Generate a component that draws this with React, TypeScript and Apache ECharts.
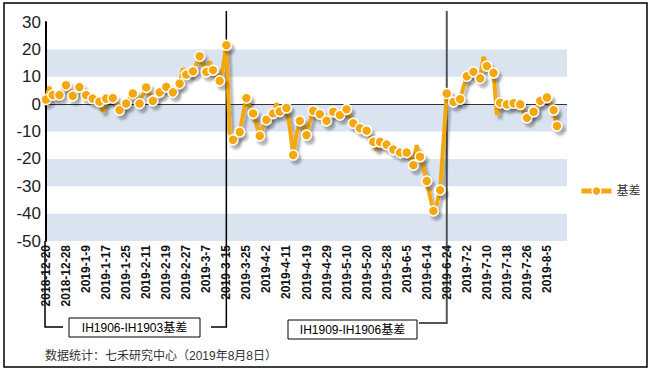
import React, { useEffect, useRef } from "react";
import * as echarts from "echarts";

const categories: string[] = [
  "2018-12-20", "2018-12-21", "2018-12-24", "2018-12-25", "2018-12-26", "2018-12-27", "2018-12-28",
  "2019-1-2", "2019-1-3", "2019-1-4", "2019-1-7", "2019-1-8", "2019-1-9", "2019-1-10", "2019-1-11",
  "2019-1-14", "2019-1-15", "2019-1-16", "2019-1-17", "2019-1-18", "2019-1-21", "2019-1-22", "2019-1-23",
  "2019-1-24", "2019-1-25", "2019-1-28", "2019-1-29", "2019-1-30", "2019-1-31", "2019-2-1", "2019-2-11",
  "2019-2-12", "2019-2-13", "2019-2-14", "2019-2-15", "2019-2-18", "2019-2-19", "2019-2-20", "2019-2-21",
  "2019-2-22", "2019-2-25", "2019-2-26", "2019-2-27", "2019-2-28", "2019-3-1", "2019-3-4", "2019-3-5",
  "2019-3-6", "2019-3-7", "2019-3-8", "2019-3-11", "2019-3-12", "2019-3-13", "2019-3-14", "2019-3-15",
  "2019-3-18", "2019-3-19", "2019-3-20", "2019-3-21", "2019-3-22", "2019-3-25", "2019-3-26", "2019-3-27",
  "2019-3-28", "2019-3-29", "2019-4-1", "2019-4-2", "2019-4-3", "2019-4-4", "2019-4-8", "2019-4-9",
  "2019-4-10", "2019-4-11", "2019-4-12", "2019-4-15", "2019-4-16", "2019-4-17", "2019-4-18", "2019-4-19",
  "2019-4-22", "2019-4-23", "2019-4-24", "2019-4-25", "2019-4-26", "2019-4-29", "2019-4-30", "2019-5-6",
  "2019-5-7", "2019-5-8", "2019-5-9", "2019-5-10", "2019-5-13", "2019-5-14", "2019-5-15", "2019-5-16",
  "2019-5-17", "2019-5-20", "2019-5-21", "2019-5-22", "2019-5-23", "2019-5-24", "2019-5-27", "2019-5-28",
  "2019-5-29", "2019-5-30", "2019-5-31", "2019-6-3", "2019-6-4", "2019-6-5", "2019-6-6", "2019-6-10",
  "2019-6-11", "2019-6-12", "2019-6-13", "2019-6-14", "2019-6-17", "2019-6-18", "2019-6-19", "2019-6-20",
  "2019-6-21", "2019-6-24", "2019-6-25", "2019-6-26", "2019-6-27", "2019-6-28", "2019-7-1", "2019-7-2",
  "2019-7-3", "2019-7-4", "2019-7-5", "2019-7-8", "2019-7-9", "2019-7-10", "2019-7-11", "2019-7-12",
  "2019-7-15", "2019-7-16", "2019-7-17", "2019-7-18", "2019-7-19", "2019-7-22", "2019-7-23", "2019-7-24",
  "2019-7-25", "2019-7-26", "2019-7-29", "2019-7-30", "2019-7-31", "2019-8-1", "2019-8-2", "2019-8-5",
  "2019-8-6", "2019-8-7", "2019-8-8", "2019-8-9", "2019-8-12", "2019-8-13",
];

const basisValues: (number | null)[] = [
  1.7, 6.3, 3.3, 4.5, 3.3, 5.2, 6.9, 5.0, 3.0, 4.6,
  6.2, 4.8, 3.3, 2.6, 2.0, 1.4, 0.9, -2.8, 2.0, 1.6,
  2.2, 0.4, -2.2, -0.8, 0.2, 2.1, 3.9, 1.8, 0.2, 3.4,
  6.1, 3.5, 1.2, 2.9, 4.3, 5.4, 6.3, 5.1, 4.3, 5.8,
  7.5, 13.0, 10.8, 11.2, 12.0, 14.6, 17.5, 14.2, 11.8, 15.6,
  12.4, 10.2, 8.5, 13.5, 21.5, -10.5, -13.0, -12.2, -10.2, -3.8,
  2.2, -0.9, -3.4, -7.3, -11.6, -8.1, -5.7, -4.2, -3.4, 0.3,
  -2.7, -2.0, -1.4, -8.5, -18.6, -11.0, -6.1, -8.0, -11.3, -6.4,
  -2.4, -2.6, -3.7, -4.8, -6.1, -4.2, -2.8, -3.1, -4.0, -2.8,
  -1.9, -4.9, -7.0, -7.9, -8.8, -9.4, -9.7, -11.6, -13.8, -16.8,
  -13.8, -14.3, -14.8, -15.6, -16.6, -17.1, -17.7, -17.9, -17.7, -19.3,
  -22.3, -15.0, -19.2, -23.4, -28.1, -33.8, -39.0, -36.5, -31.4, -14.0,
  3.9, 1.9, 0.8, 1.1, 1.8, 6.2, 10.2, 11.1, 11.8, 10.8,
  9.4, 17.3, 13.9, 12.3, 11.4, -4.0, 0.5, 0.1, -0.1, 0.1,
  0.3, 0.1, -0.1, -2.8, -5.0, -4.1, -2.8, -0.9, 1.2, 2.0,
  2.4, 0.2, -2.2, -8.0, null, null, null,
];

const seriesName = "基差";
const yMin = -50;
const yMax = 30;
const yStep = 10;
const labelEvery = 6;
const lastLabelIndex = 150;

const segmentStart = "2018-12-20";
const segmentBreak1 = "2019-3-15";
const segmentBreak2 = "2019-6-24";
const segmentLabel1 = "IH1906-IH1903基差";
const segmentLabel2 = "IH1909-IH1906基差";
const footnote = "数据统计：七禾研究中心（2019年8月8日）";

const FONT = '"Liberation Sans", Arial, "Noto Sans CJK SC", sans-serif';
const ORANGE = "#f4a80b";

export default function App() {
  const ref = useRef<HTMLDivElement>(null);

  useEffect(() => {
    if (!ref.current) return;
    const chart = echarts.init(ref.current, undefined, { renderer: "svg", width: 651, height: 372 });

    let lastIdx = 0;
    basisValues.forEach((v, i) => {
      if (v !== null) lastIdx = i;
    });

    const seriesData = basisValues.map((v, i) => ({
      value: v,
      symbol: i % 2 === 0 || i === lastIdx ? "circle" : "none",
    }));

    const shadow = {
      shadowColor: "rgba(0,0,0,0.28)",
      shadowBlur: 2,
      shadowOffsetX: 3,
      shadowOffsetY: 4,
    };

    chart.setOption({
      animation: false,
      backgroundColor: "#fff",
      textStyle: { fontFamily: FONT },
      grid: { left: 46, right: 84, top: 22, bottom: 131, containLabel: false },
      legend: {
        data: [seriesName],
        left: 574,
        top: 180,
        itemWidth: 30,
        itemHeight: 11,
        itemGap: 6,
        lineStyle: { width: 5, color: ORANGE },
        itemStyle: { color: ORANGE, borderColor: "#fff", borderWidth: 1.5 },
        textStyle: { fontSize: 12, color: "#333", fontFamily: FONT },
      },
      xAxis: {
        type: "category",
        data: categories,
        boundaryGap: false,
        axisLine: { show: false },
        axisTick: { show: false },
        splitLine: { show: false },
        axisLabel: {
          rotate: 90,
          margin: 4,
          fontSize: 12,
          fontWeight: "bold",
          color: "#111",
          fontFamily: FONT,
          interval: (index: number) => index % labelEvery === 0 && index <= lastLabelIndex,
        },
      },
      yAxis: {
        type: "value",
        min: yMin,
        max: yMax,
        interval: yStep,
        axisLine: { show: true, lineStyle: { color: "#000", width: 2 } },
        axisTick: { show: false },
        splitLine: { show: false },
        splitArea: { show: true, areaStyle: { color: ["#d9e4f0", "rgba(255,255,255,0)"] } },
        axisLabel: { fontSize: 17, color: "#222", margin: 5, fontFamily: FONT },
      },
      series: [
        {
          name: seriesName,
          type: "line",
          data: seriesData,
          symbol: "circle",
          symbolSize: 10,
          showAllSymbol: true,
          connectNulls: false,
          lineStyle: { color: ORANGE, width: 4, ...shadow },
          itemStyle: { color: ORANGE, borderColor: "#fff", borderWidth: 1.5, ...shadow },
          z: 3,
          markLine: {
            silent: true,
            symbol: ["none", "none"],
            label: { show: false },
            lineStyle: { color: "#333", width: 1, type: "solid" },
            data: [{ yAxis: 0 }],
            z: 1,
          },
        },
      ],
    });

    const px = (c: string) => chart.convertToPixel({ xAxisIndex: 0 }, c) as number;
    const py = (v: number) => chart.convertToPixel({ yAxisIndex: 0 }, v) as number;
    const x0 = px(segmentStart) - 1;
    const x1 = px(segmentBreak1);
    const x2 = px(segmentBreak2);
    const yBottom = py(yMin);
    const topY = 11;

    chart.setOption({
      graphic: {
        elements: [
          {
            type: "rect",
            shape: { x: 4, y: 3, width: 643, height: 364 },
            style: { fill: "none", stroke: "#000", lineWidth: 1.5 },
            silent: true,
          },
          {
            type: "polyline",
            shape: { points: [[x0, yBottom], [x0, 327], [63, 327]] },
            style: { stroke: "#000", lineWidth: 1.5, fill: "none" },
            silent: true,
          },
          {
            type: "rect",
            shape: { x: 69, y: 318, width: 131, height: 19 },
            style: { fill: "#fff", stroke: "#000", lineWidth: 1 },
            silent: true,
          },
          {
            type: "text",
            x: 134.5,
            y: 327.5,
            style: {
              text: segmentLabel1,
              fontSize: 12,
              fontFamily: FONT,
              fill: "#000",
              align: "center",
              verticalAlign: "middle",
            },
            silent: true,
          },
          {
            type: "polyline",
            shape: { points: [[211, 327], [x1, 327], [x1, topY]] },
            style: { stroke: "#000", lineWidth: 1.5, fill: "none" },
            silent: true,
          },
          {
            type: "rect",
            shape: { x: 288, y: 320, width: 129, height: 19 },
            style: { fill: "#fff", stroke: "#000", lineWidth: 1 },
            silent: true,
          },
          {
            type: "text",
            x: 352.5,
            y: 329.5,
            style: {
              text: segmentLabel2,
              fontSize: 12,
              fontFamily: FONT,
              fill: "#000",
              align: "center",
              verticalAlign: "middle",
            },
            silent: true,
          },
          {
            type: "polyline",
            shape: { points: [[419, 323], [x2, 323], [x2, topY]] },
            style: { stroke: "#555", lineWidth: 2, fill: "none" },
            silent: true,
          },
          {
            type: "text",
            x: 45,
            y: 356,
            style: {
              text: footnote,
              fontSize: 12,
              fontFamily: FONT,
              fill: "#333",
              align: "left",
              verticalAlign: "middle",
            },
            silent: true,
          },
        ],
      },
    });

    return () => {
      chart.dispose();
    };
  }, []);

  return (
    <div
      ref={ref}
      style={{ position: "fixed", left: 0, top: 0, width: 651, height: 372, background: "#fff" }}
    />
  );
}
